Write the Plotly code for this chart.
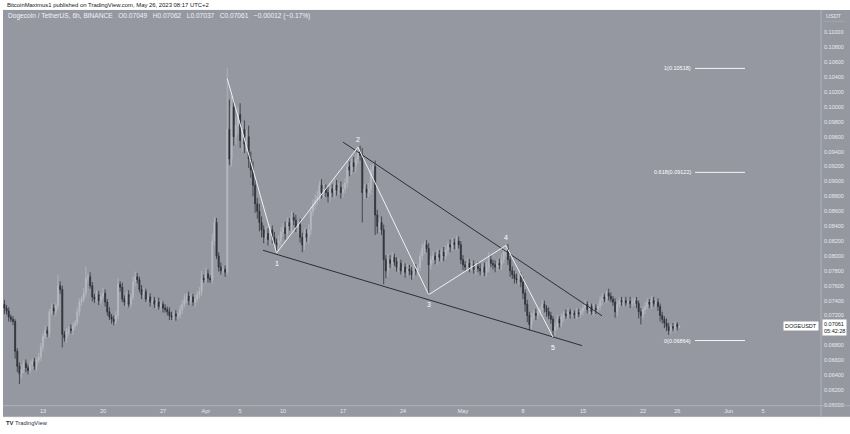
import plotly.graph_objects as go
import pandas as pd

W, H = 850, 434
GREY = '#9598a1'
LIGHT = '#e8eaef'
DARK = '#131722'

# ---- DOGE/USDT 6h candles (prices in 1e-5 USDT) ----
first_open_e5 = 7350
close_e5 = [
    7300, 7260, 7180, 7150, 7120, 6720, 6520, 6420, 6480, 6560,
    6500, 6460, 6540, 6580, 6520, 6600, 6640, 6780, 6920, 7000,
    6960, 7250, 7300, 7260, 7330, 7600, 7550, 6950, 6900, 6980,
    7020, 7000, 7060, 7100, 7250, 7380, 7420, 7500, 7700, 7720,
    7600, 7450, 7420, 7480, 7400, 7460, 7500, 7380, 7250, 7180,
    7150, 7120, 7200, 7620, 7580, 7420, 7380, 7480, 7350, 7450,
    7650, 7720, 7680, 7550, 7480, 7520, 7420, 7450, 7380, 7400,
    7350, 7380, 7320, 7350, 7300, 7280, 7250, 7200, 7180, 7220,
    7190, 7210, 7280, 7350, 7420, 7460, 7400, 7450, 7380, 7420,
    7480, 7520, 7700, 7680, 7760, 7700, 7680, 8200, 8450, 8000,
    7850, 7800, 7820, 7780, 9700, 9300, 10000, 9600, 9750, 9900,
    9550, 9700, 9500, 9600, 9300, 9150, 8950, 8700, 8600, 8450,
    8350, 8250, 8300, 8220, 8350, 8250, 8180, 8150, 8200, 8320,
    8380, 8300, 8450, 8400, 8520, 8480, 8380, 8420, 8250, 8150,
    8300, 8250, 8350, 8600, 8700, 8750, 8800, 8950, 8850, 8900,
    8850, 8800, 8900, 8850, 8950, 8880, 8920, 8850, 8900, 8980,
    9200, 9150, 9250, 9200, 9300, 9400, 9350, 8850, 8900, 8850,
    8900, 9150, 9200, 8550, 8400, 8450, 8350, 7950, 7800, 7950,
    7900, 7980, 7920, 7850, 7900, 7800, 7850, 7780, 7820, 7800,
    7750, 7820, 7800, 7850, 8000, 8100, 8150, 8100, 7880, 7950,
    8000, 7950, 8020, 7980, 8050, 8000, 8080, 8150, 8120, 8180,
    8150, 8200, 8150, 7950, 7880, 7850, 7900, 7850, 7880, 7820,
    7860, 7830, 7800, 7850, 7780, 7850, 7950, 7900, 7880, 7850,
    7900, 7880, 7950, 8050, 8100, 7950, 7800, 7750, 7700, 7680,
    7720, 7650, 7500, 7350, 7200, 7080, 7180, 7230, 7200, 7250,
    7280, 7350, 7300, 7250, 7200, 7150, 7000, 7050, 7150, 7100,
    7180, 7220, 7200, 7250, 7220, 7230, 7210, 7240, 7220, 7260,
    7300, 7350, 7280, 7320, 7250, 7300, 7280, 7320, 7400, 7450,
    7420, 7500, 7460, 7420, 7380, 7250, 7350, 7400, 7380, 7400,
    7370, 7390, 7360, 7380, 7400, 7360, 7250, 7200, 7280, 7320,
    7380, 7350, 7400, 7360, 7380, 7320, 7200, 7150, 7100, 7050,
    7000, 7050, 7030, 7080, 7049, 7061,
]
upper_wick_e5 = [
    60, 40, 50, 30, 40, 30, 40, 50, 60, 40,
    50, 40, 60, 40, 50, 40, 60, 50, 40, 60,
    50, 40, 60, 50, 40, 140, 60, 50, 40, 50,
    40, 60, 50, 40, 60, 50, 40, 70, 160, 50,
    60, 50, 40, 60, 50, 40, 70, 50, 40, 60,
    40, 50, 60, 80, 40, 60, 50, 40, 60, 50,
    70, 70, 50, 40, 60, 50, 40, 60, 50, 40,
    50, 40, 60, 50, 40, 50, 40, 60, 50, 40,
    50, 40, 60, 50, 70, 40, 60, 50, 40, 60,
    50, 60, 100, 50, 80, 60, 40, 100, 70, 60,
    50, 60, 40, 50, 818, 400, 150, 100, 120, 100,
    150, 100, 120, 100, 150, 100, 120, 100, 80, 100,
    80, 60, 100, 70, 80, 60, 70, 50, 80, 70,
    60, 80, 70, 60, 80, 60, 70, 60, 80, 60,
    70, 60, 80, 70, 60, 80, 70, 60, 80, 70,
    60, 80, 70, 60, 80, 70, 60, 80, 70, 60,
    80, 70, 60, 80, 70, 60, 80, 100, 70, 60,
    80, 70, 60, 80, 70, 60, 80, 70, 60, 80,
    60, 70, 50, 60, 70, 50, 60, 50, 70, 60,
    50, 60, 70, 50, 60, 70, 50, 60, 70, 50,
    60, 50, 70, 60, 50, 70, 60, 50, 70, 60,
    50, 70, 60, 50, 60, 50, 70, 60, 50, 60,
    50, 60, 70, 50, 60, 70, 100, 60, 50, 60,
    50, 60, 70, 60, 50, 60, 50, 60, 50, 60,
    50, 60, 70, 50, 60, 50, 60, 50, 60, 50,
    40, 60, 50, 40, 60, 50, 40, 50, 60, 40,
    50, 40, 60, 50, 40, 50, 40, 60, 50, 40,
    50, 60, 40, 50, 40, 60, 50, 40, 60, 50,
    40, 40, 60, 50, 40, 50, 60, 40, 50, 40,
    50, 40, 60, 50, 40, 50, 40, 50, 40, 60,
    50, 40, 60, 50, 40, 50, 40, 50, 40, 60,
    50, 40, 50, 40, 30, 1,
]
lower_wick_e5 = [
    80, 50, 60, 40, 50, 100, 80, 140, 60, 50,
    60, 50, 40, 60, 50, 60, 40, 50, 60, 40,
    50, 60, 40, 50, 60, 50, 60, 180, 50, 60,
    50, 40, 60, 50, 40, 60, 50, 40, 50, 60,
    40, 60, 50, 40, 60, 50, 40, 60, 50, 40,
    60, 50, 40, 50, 60, 40, 50, 60, 40, 50,
    40, 60, 50, 40, 60, 50, 40, 50, 60, 40,
    50, 60, 40, 50, 60, 40, 50, 60, 40, 50,
    60, 40, 50, 60, 40, 50, 60, 40, 50, 60,
    40, 50, 60, 40, 50, 60, 40, 50, 60, 40,
    60, 50, 40, 60, 30, 80, 100, 120, 100, 120,
    100, 150, 120, 100, 120, 100, 150, 120, 100, 120,
    100, 80, 60, 80, 70, 80, 60, 110, 80, 70,
    60, 80, 70, 60, 80, 70, 60, 80, 70, 100,
    70, 60, 80, 70, 60, 80, 70, 60, 80, 70,
    60, 80, 70, 60, 80, 70, 60, 80, 70, 60,
    70, 80, 60, 70, 80, 60, 70, 400, 80, 70,
    60, 80, 70, 270, 100, 80, 70, 330, 100, 80,
    60, 70, 50, 60, 70, 50, 60, 70, 50, 60,
    70, 50, 60, 70, 50, 60, 70, 50, 410, 60,
    50, 60, 70, 50, 60, 70, 50, 60, 70, 50,
    60, 70, 50, 60, 70, 50, 60, 70, 50, 60,
    70, 50, 60, 70, 50, 60, 70, 50, 60, 70,
    50, 60, 70, 50, 60, 70, 80, 60, 70, 50,
    60, 70, 80, 100, 90, 80, 60, 50, 60, 50,
    60, 50, 60, 70, 50, 60, 90, 70, 50, 60,
    50, 60, 40, 50, 60, 40, 50, 60, 40, 50,
    60, 40, 50, 60, 40, 50, 60, 40, 50, 60,
    40, 50, 60, 40, 50, 80, 60, 40, 50, 60,
    40, 50, 60, 40, 50, 60, 90, 120, 50, 60,
    40, 50, 60, 40, 50, 60, 80, 60, 70, 60,
    60, 50, 40, 60, 50, 12,
]
first_candle_time = '2023-03-08 12:00'

# ---- Elliott wave zigzag ----
wave_times = ['2023-04-03 12:00', '2023-04-09 06:00', '2023-04-18 18:00',
              '2023-04-27 00:00', '2023-05-06 00:00', '2023-05-11 12:00']
wave_prices = [0.1038, 0.0804, 0.0946, 0.0748, 0.0814, 0.0691]
wave_labels = ['', '1', '2', '3', '4', '5']
wave_label_shift = [0, -11, 8, -10, 8, -10]

# ---- falling wedge lines ----
wedge_upper_times = ['2023-04-17 00:00', '2023-05-17 05:20']
wedge_upper_prices = [0.09529, 0.07196]
wedge_lower_times = ['2023-04-07 16:00', '2023-05-14 21:20']
wedge_lower_prices = [0.08076, 0.06796]

# ---- Fibonacci levels ----
fib_times = ['2023-05-28 01:40', '2023-06-02 21:40']
fib_levels = [0.10518, 0.09122, 0.06864]
fib_texts = ['1(0.10518)', '0.618(0.09122)', '0(0.06864)']

# ---- axes ----
x_range = ['2023-03-08 08:00', '2023-06-11 18:30']
y_range = [0.05996, 0.11303]
y_tick_values = [0.060, 0.062, 0.064, 0.066, 0.068, 0.070, 0.072, 0.074, 0.076, 0.078,
                 0.080, 0.082, 0.084, 0.086, 0.088, 0.090, 0.092, 0.094, 0.096, 0.098,
                 0.100, 0.102, 0.104, 0.106, 0.108, 0.110]
x_tick_dates = ['2023-03-13', '2023-03-20', '2023-03-27', '2023-04-01', '2023-04-05',
                '2023-04-10', '2023-04-17', '2023-04-24', '2023-05-01', '2023-05-08',
                '2023-05-15', '2023-05-22', '2023-05-26', '2023-06-01', '2023-06-05']
x_tick_text = ['13', '20', '27', 'Apr', '5', '10', '17', '24', 'May', '8', '15', '22',
               '26', 'Jun', '5']

n = len(close_e5)
times = pd.date_range(first_candle_time, periods=n, freq='6h')
closes = [c / 1e5 for c in close_e5]
opens = [first_open_e5 / 1e5] + closes[:-1]
highs = [max(o, c) + u / 1e5 for o, c, u in zip(opens, closes, upper_wick_e5)]
lows = [min(o, c) - l / 1e5 for o, c, l in zip(opens, closes, lower_wick_e5)]


def px(x):
    return x / W


def py(y):
    return 1 - y / H


FONT = 'Liberation Sans, Arial, sans-serif'

fig = go.Figure()
fig.add_trace(go.Candlestick(
    x=times, open=opens, high=highs, low=lows, close=closes,
    increasing=dict(line=dict(color='#b7bac1', width=0.8), fillcolor='#b7bac1'),
    decreasing=dict(line=dict(color='#2e3138', width=0.8), fillcolor='#2e3138'),
    whiskerwidth=0, hoverinfo='skip'))

fig.add_trace(go.Scatter(x=wedge_upper_times, y=wedge_upper_prices, mode='lines',
                         line=dict(color='#2a2e39', width=1), hoverinfo='skip'))
fig.add_trace(go.Scatter(x=wedge_lower_times, y=wedge_lower_prices, mode='lines',
                         line=dict(color='#2a2e39', width=1), hoverinfo='skip'))
fig.add_trace(go.Scatter(x=wave_times, y=wave_prices, mode='lines',
                         line=dict(color='#eef0f4', width=1), hoverinfo='skip'))
for lvl in fib_levels:
    fig.add_trace(go.Scatter(x=fib_times, y=[lvl, lvl], mode='lines',
                             line=dict(color='#f4f5f8', width=1), hoverinfo='skip'))

ann = []
for t, p, lab, s in zip(wave_times, wave_prices, wave_labels, wave_label_shift):
    if lab:
        ann.append(dict(x=t, y=p, xref='x', yref='y', text=lab, showarrow=False,
                        yshift=s, font=dict(size=7, color='#ffffff', family=FONT)))
for lvl, txt in zip(fib_levels, fib_texts):
    ann.append(dict(x=fib_times[0], y=lvl, xref='x', yref='y', text=txt, showarrow=False,
                    xanchor='right', xshift=-2, font=dict(size=5.5, color='#ffffff', family=FONT)))

# header texts
ann.append(dict(x=px(5), y=py(5), xref='paper', yref='paper', xanchor='left', yanchor='middle',
                text='BitcoinMaximus1 published on TradingView.com, May 26, 2023 08:17 UTC+2',
                showarrow=False, font=dict(size=5.9, color=DARK, family=FONT)))
ann.append(dict(x=px(6), y=py(16), xref='paper', yref='paper', xanchor='left', yanchor='middle',
                text='Dogecoin / TetherUS, 6h, BINANCE   O0.07049   H0.07062   L0.07037   C0.07061   \u22120.00012 (\u22120.17%)',
                showarrow=False, font=dict(size=6.6, color='#f0f2f5', family=FONT)))
ann.append(dict(x=px(824), y=py(16), xref='paper', yref='paper', xanchor='left', yanchor='middle',
                text='USDT', showarrow=False, font=dict(size=5.5, color=LIGHT, family=FONT)))
ann.append(dict(x=px(4), y=py(426), xref='paper', yref='paper', xanchor='left', yanchor='middle',
                text='<b>TV</b> TradingView', showarrow=False,
                font=dict(size=5.8, color='#2a2e39', family=FONT)))
# last price labels
ann.append(dict(x=px(822), y=closes[-1], xref='paper', yref='y', xanchor='left', yanchor='middle',
                yshift=-2, text='0.07061<br>05:42:28', showarrow=False, bgcolor='#ffffff',
                borderpad=1, align='left', font=dict(size=5.5, color=DARK, family=FONT)))
ann.append(dict(x=px(819), y=closes[-1], xref='paper', yref='y', xanchor='right', yanchor='middle',
                text='DOGEUSDT', showarrow=False, bgcolor='#ffffff', borderpad=1,
                font=dict(size=5.5, color=DARK, family=FONT)))

shapes = [
    dict(type='rect', xref='paper', yref='paper', x0=px(3), x1=1, y0=py(420), y1=py(10),
         fillcolor=GREY, line=dict(width=0), layer='below'),
    dict(type='line', xref='paper', yref='paper', x0=px(3), x1=1, y0=py(408.5), y1=py(408.5),
         line=dict(color='#aeb1b8', width=1)),
    dict(type='line', xref='paper', yref='paper', x0=px(3), x1=1, y0=py(419.5), y1=py(419.5),
         line=dict(color='#aeb1b8', width=1)),
    dict(type='line', xref='paper', yref='paper', x0=px(821), x1=px(821), y0=py(420), y1=py(10),
         line=dict(color='#aeb1b8', width=1)),
    dict(type='line', xref='paper', yref='paper', x0=px(823), x1=px(845), y0=py(21.5), y1=py(21.5),
         line=dict(color='#a3a6ae', width=1)),
]

fig.update_layout(
    width=W, height=H, margin=dict(l=0, r=0, t=0, b=0),
    paper_bgcolor='#ffffff', plot_bgcolor=GREY, showlegend=False,
    annotations=ann, shapes=shapes, hovermode=False,
    xaxis=dict(domain=[px(3), px(821)], range=x_range, type='date',
               rangeslider=dict(visible=False), showgrid=False, zeroline=False,
               showline=False, ticks='', tickmode='array', tickvals=x_tick_dates,
               ticktext=x_tick_text, tickfont=dict(size=5.5, color=LIGHT, family=FONT),
               ticklabelstandoff=1, fixedrange=True),
    yaxis=dict(domain=[py(408), py(10)], range=y_range, side='right', showgrid=False,
               zeroline=False, showline=False, ticks='', tickmode='array',
               tickvals=y_tick_values, tickformat='.5f',
               tickfont=dict(size=5.5, color=LIGHT, family=FONT),
               ticklabelstandoff=2, fixedrange=True),
)

fig.write_html('out.html', config={'displayModeBar': False},
               post_script="document.body.style.margin='0';document.body.style.overflow='hidden';")
